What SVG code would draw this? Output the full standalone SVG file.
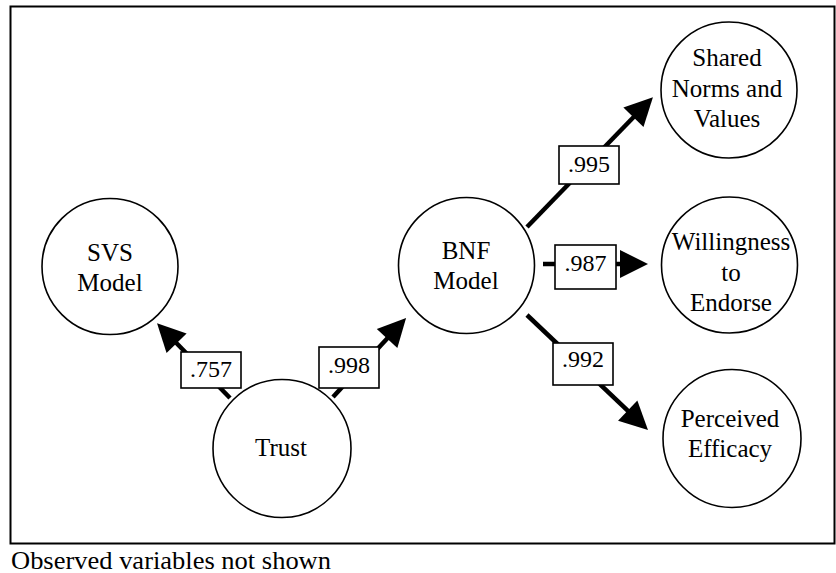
<svg xmlns="http://www.w3.org/2000/svg" width="836" height="573" viewBox="0 0 836 573">
  <style>
    .node { fill: #fff; stroke: #000; stroke-width: 1.6; }
    text { font-family: "Liberation Serif", serif; fill: #000; }
    .lbl { font-size: 25px; text-anchor: middle; }
    .coef { font-size: 24px; text-anchor: middle; }
    .note { font-size: 25px; }
    .box { fill: #fff; stroke: #000; stroke-width: 1.6; }
    .edge { fill: none; stroke: #000; stroke-width: 4.5; marker-end: url(#head); }
  </style>
  <defs>
    <marker id="head" markerUnits="userSpaceOnUse" markerWidth="28" markerHeight="28" refX="8" refY="14" orient="auto" overflow="visible">
      <path d="M0,0 L28,14 L0,28 z" fill="#000"/>
    </marker>
  </defs>

  <rect x="10.5" y="6.5" width="824" height="537" fill="#fff" stroke="#000" stroke-width="2"/>

  <g id="connectors">
    <line class="edge" x1="230" y1="398" x2="171" y2="337.5"/>
    <line class="edge" x1="333" y1="397" x2="392.5" y2="332.7"/>
    <line class="edge" x1="527" y1="227" x2="639" y2="111.5"/>
    <line class="edge" x1="543" y1="264" x2="628" y2="264"/>
    <line class="edge" x1="527" y1="315" x2="633.5" y2="416.2"/>

    <g id="coef-757"><rect class="box" x="181" y="352" width="60" height="36"/><text class="coef" x="211" y="377">.757</text></g>
    <g id="coef-998"><rect class="box" x="319" y="347" width="60" height="41"/><text class="coef" x="349" y="373">.998</text></g>
    <g id="coef-995"><rect class="box" x="559" y="146" width="60" height="38"/><text class="coef" x="589" y="172">.995</text></g>
    <g id="coef-987"><rect class="box" x="555" y="245" width="61" height="44"/><text class="coef" x="585.5" y="271">.987</text></g>
    <g id="coef-992"><rect class="box" x="553" y="343" width="60" height="42"/><text class="coef" x="583" y="367">.992</text></g>
  </g>

  <g id="svs">
    <circle class="node" cx="110" cy="266.5" r="68"/>
    <text class="lbl" x="110" y="261">SVS</text>
    <text class="lbl" x="110" y="291">Model</text>
  </g>
  <g id="bnf">
    <circle class="node" cx="466.5" cy="265.5" r="68"/>
    <text class="lbl" x="466" y="259">BNF</text>
    <text class="lbl" x="466" y="289">Model</text>
  </g>
  <g id="trust">
    <circle class="node" cx="282" cy="448.5" r="69"/>
    <text class="lbl" x="281" y="456">Trust</text>
  </g>
  <g id="shared">
    <circle class="node" cx="729" cy="90" r="68"/>
    <text class="lbl" x="727" y="66">Shared</text>
    <text class="lbl" x="727" y="97">Norms and</text>
    <text class="lbl" x="727" y="127">Values</text>
  </g>
  <g id="willingness">
    <circle class="node" cx="729.5" cy="265" r="68"/>
    <text class="lbl" x="731" y="250">Willingness</text>
    <text class="lbl" x="731" y="281">to</text>
    <text class="lbl" x="731" y="311">Endorse</text>
  </g>
  <g id="efficacy">
    <circle class="node" cx="732" cy="438.5" r="69"/>
    <text class="lbl" x="730" y="427">Perceived</text>
    <text class="lbl" x="730" y="457">Efficacy</text>
  </g>

  <text class="note" x="11" y="569" textLength="320" lengthAdjust="spacingAndGlyphs">Observed variables not shown</text>
</svg>
